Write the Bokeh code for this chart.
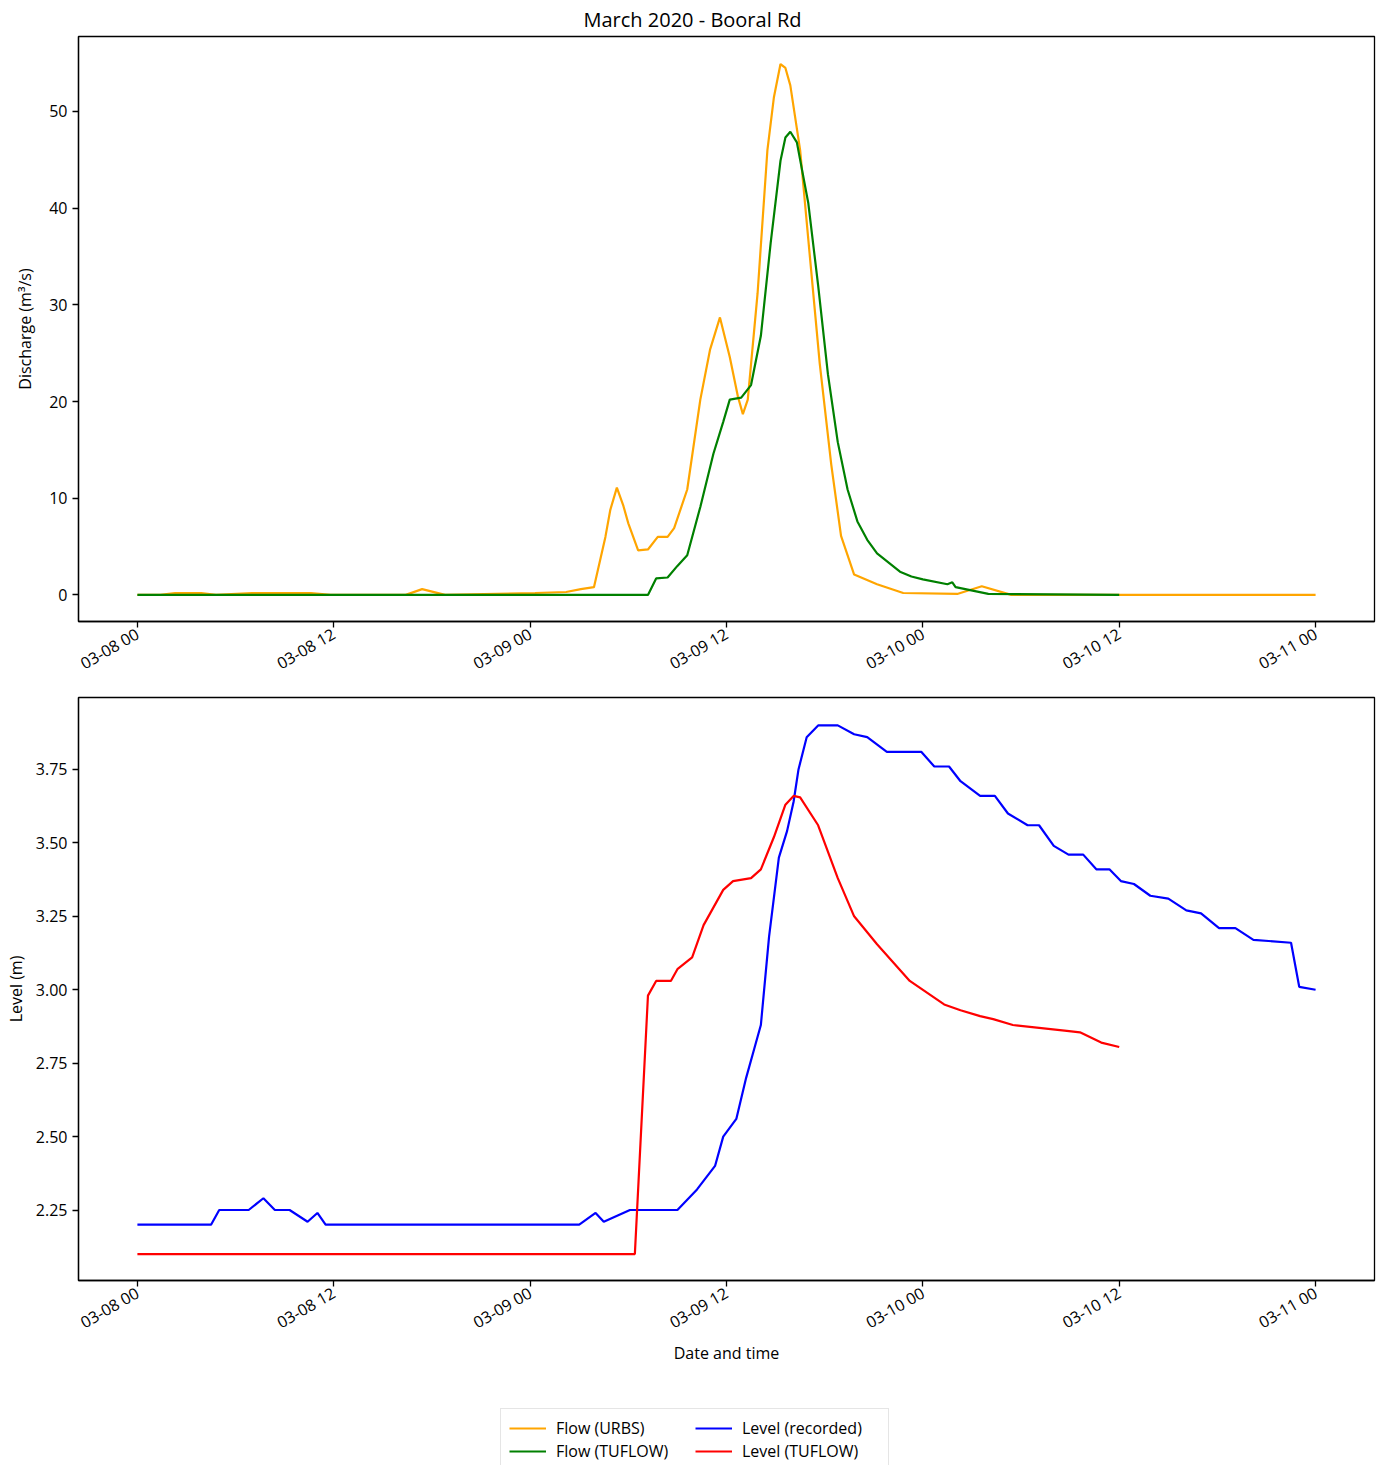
import math
import pandas as pd
from bokeh.plotting import figure
from bokeh.layouts import column
from bokeh.models import (Range1d, FixedTicker, DatetimeTickFormatter,
                          NumeralTickFormatter, Legend, LegendItem)
from bokeh.embed import file_html
from bokeh.resources import INLINE

START = pd.Timestamp("2020-03-08 00:00")

# ---- data (hours since 2020-03-08 00:00) ----
urbs_hours = [0.0, 1.4, 2.3, 3.9, 4.8, 7.0, 10.6, 11.8, 16.4, 17.4, 18.8, 24.3, 26.2,
              27.1, 27.9, 28.6, 28.9, 29.3, 29.7, 30.0, 30.6, 31.2, 31.8, 32.4, 32.8,
              33.6, 34.4, 35.0, 35.6, 36.2, 36.7, 37.0, 37.3, 37.9, 38.5, 38.9, 39.3,
              39.6, 39.9, 40.5, 41.1, 41.7, 42.4, 43.0, 43.8, 45.2, 46.8, 50.1, 51.6,
              53.4, 72.0]
urbs_flow = [0.0, 0.0, 0.2, 0.2, 0.0, 0.2, 0.2, 0.0, 0.0, 0.6, 0.0, 0.2, 0.3,
             0.6, 0.8, 6.0, 8.8, 11.1, 9.2, 7.4, 4.6, 4.7, 6.0, 6.0, 6.9,
             10.9, 20.2, 25.4, 28.7, 24.6, 20.5, 18.7, 20.2, 31.2, 46.0, 51.5, 54.9,
             54.5, 52.7, 46.0, 34.9, 23.9, 13.5, 6.1, 2.1, 1.1, 0.2, 0.1, 0.9,
             0.0, 0.0]

tuflow_hours = [0.0, 31.2, 31.7, 32.4, 33.0, 33.6, 34.4, 35.2, 35.8, 36.2, 36.9, 37.5,
                38.1, 38.7, 39.3, 39.6, 39.9, 40.3, 41.0, 41.6, 42.2, 42.8, 43.4, 44.0,
                44.6, 45.2, 46.6, 47.3, 48.0, 49.5, 49.8, 50.0, 52.0, 60.0]
tuflow_flow = [0.0, 0.0, 1.7, 1.8, 3.0, 4.1, 9.1, 14.6, 17.9, 20.2, 20.4, 21.7,
               26.8, 36.4, 44.9, 47.3, 47.9, 46.8, 40.5, 32.0, 22.8, 15.8, 10.9, 7.6,
               5.7, 4.3, 2.4, 1.9, 1.6, 1.1, 1.3, 0.8, 0.1, 0.0]

rec_hours = [0.0, 4.5, 5.0, 6.8, 7.7, 8.4, 9.3, 10.4, 11.0, 11.5, 27.0, 28.0, 28.5,
             30.1, 33.0, 34.2, 35.3, 35.8, 36.6, 37.2, 37.7, 38.1, 38.6, 39.2, 39.7,
             40.1, 40.4, 40.9, 41.6, 42.8, 43.8, 44.6, 45.8, 47.9, 48.7, 49.6, 50.3,
             51.5, 52.4, 53.2, 54.4, 55.1, 56.0, 56.9, 57.8, 58.6, 59.4, 60.1, 60.9,
             61.9, 63.0, 64.1, 65.0, 66.1, 67.1, 68.2, 70.5, 71.0, 72.0]
rec_level = [2.20, 2.20, 2.25, 2.25, 2.29, 2.25, 2.25, 2.21, 2.24, 2.20, 2.20, 2.24, 2.21,
             2.25, 2.25, 2.32, 2.40, 2.50, 2.56, 2.70, 2.80, 2.88, 3.18, 3.45, 3.54,
             3.64, 3.75, 3.86, 3.90, 3.90, 3.87, 3.86, 3.81, 3.81, 3.76, 3.76, 3.71,
             3.66, 3.66, 3.60, 3.56, 3.56, 3.49, 3.46, 3.46, 3.41, 3.41, 3.37, 3.36,
             3.32, 3.31, 3.27, 3.26, 3.21, 3.21, 3.17, 3.16, 3.01, 3.00]

tlev_hours = [0.0, 30.4, 31.2, 31.7, 32.6, 33.0, 33.9, 34.6, 35.8, 36.4, 37.5, 38.1,
              38.9, 39.6, 40.1, 40.5, 41.6, 42.8, 43.8, 45.2, 47.2, 49.3, 50.3, 51.5,
              52.3, 53.5, 56.8, 57.6, 58.9, 60.0]
tlev_level = [2.10, 2.10, 2.98, 3.03, 3.03, 3.07, 3.11, 3.22, 3.34, 3.37, 3.38, 3.41,
              3.52, 3.63, 3.66, 3.655, 3.56, 3.38, 3.25, 3.155, 3.03, 2.95, 2.93, 2.91,
              2.90, 2.88, 2.86, 2.855, 2.82, 2.805]

tick_hours = [0, 12, 24, 36, 48, 60, 72]
flow_ticks = [0, 10, 20, 30, 40, 50]
level_ticks = [2.25, 2.50, 2.75, 3.00, 3.25, 3.50, 3.75]

labels = ["Flow (URBS)", "Flow (TUFLOW)", "Level (recorded)", "Level (TUFLOW)"]
colors = ["#FFA500", "#008000", "#0000FF", "#FF0000"]

FONT = "Open Sans"
LW = 2.2


def to_time(hs):
    return [START + pd.Timedelta(hours=h) for h in hs]


def to_ms(h):
    return (START + pd.Timedelta(hours=h) - pd.Timestamp("1970-01-01")) / pd.Timedelta(milliseconds=1)


def make_fig(height, top, bottom, y_range):
    p = figure(width=1383, height=height, output_backend="svg", toolbar_location=None,
               x_axis_type="datetime",
               x_range=Range1d(START - pd.Timedelta(hours=3.6), START + pd.Timedelta(hours=75.6)),
               y_range=y_range, min_border_left=78, min_border_right=9,
               min_border_top=top, min_border_bottom=bottom)
    p.grid.visible = False
    p.outline_line_color = "black"
    p.outline_line_width = 1.3
    for ax in p.axis:
        ax.axis_line_color = "black"
        ax.axis_line_width = 1.3
        ax.major_tick_out = 6
        ax.major_tick_in = 0
        ax.major_tick_line_color = "black"
        ax.major_tick_line_width = 1.3
        ax.minor_tick_out = 0
        ax.minor_tick_in = 0
        ax.major_label_text_font = FONT
        ax.major_label_text_font_size = "16px"
        ax.major_label_text_color = "black"
        ax.axis_label_text_font = FONT
        ax.axis_label_text_font_size = "16px"
        ax.axis_label_text_font_style = "normal"
        ax.axis_label_text_color = "black"
        ax.major_label_standoff = 5
    fmt = "%m-%d %H"
    p.xaxis.ticker = FixedTicker(ticks=[to_ms(h) for h in tick_hours])
    p.xaxis.formatter = DatetimeTickFormatter(
        microseconds=fmt, milliseconds=fmt, seconds=fmt, minsec=fmt, minutes=fmt,
        hourmin=fmt, hours=fmt, days=fmt, months=fmt, years=fmt)
    p.xaxis.major_label_orientation = math.pi / 6
    return p


# ---- top: discharge ----
p1 = make_fig(690, 36, 69, Range1d(-2.75, 57.75))
p1.line(to_time(urbs_hours), urbs_flow, line_color=colors[0], line_width=LW)
p1.line(to_time(tuflow_hours), tuflow_flow, line_color=colors[1], line_width=LW)
p1.yaxis.ticker = FixedTicker(ticks=flow_ticks)
p1.yaxis.axis_label = "Discharge (m³/s)"
p1.yaxis.axis_label_standoff = 10
p1.title.text = "March 2020 - Booral Rd"
p1.title.text_font = FONT
p1.title.text_font_size = "20px"
p1.title.text_font_style = "normal"
p1.title.text_color = "black"
p1.title.align = "left"
p1.title.offset = 505
p1.title.standoff = 7

# ---- bottom: level ----
p2 = make_fig(700, 7, 110, Range1d(2.01, 3.995))
p2.line(to_time(rec_hours), rec_level, line_color=colors[2], line_width=LW)
p2.line(to_time(tlev_hours), tlev_level, line_color=colors[3], line_width=LW)
p2.yaxis.ticker = FixedTicker(ticks=level_ticks)
p2.yaxis.formatter = NumeralTickFormatter(format="0.00")
p2.yaxis.axis_label = "Level (m)"
p2.yaxis.axis_label_standoff = 6
p2.xaxis.axis_label = "Date and time"
p2.xaxis.axis_label_standoff = -4

# ---- legend strip ----
p3 = figure(width=1383, height=75, output_backend="svg", toolbar_location=None,
            min_border=0, outline_line_color=None,
            x_range=Range1d(0, 1), y_range=Range1d(0, 1))
p3.axis.visible = False
p3.grid.visible = False
items = []
nan = float("nan")
for lab, col in zip(labels, colors):
    r = p3.line(x=[nan, nan], y=[nan, nan], line_color=col, line_width=LW)
    items.append(LegendItem(label=lab, renderers=[r]))
leg = Legend(items=items, ncols=2, location=(422, -6))
leg.label_text_font = FONT
leg.label_text_font_size = "16px"
leg.label_text_color = "black"
leg.glyph_width = 37
leg.glyph_height = 20
leg.label_height = 20
leg.label_width = 138
leg.label_standoff = 10
leg.spacing = 1
leg.padding = 8
leg.margin = 0
leg.border_line_color = "#cccccc"
leg.background_fill_alpha = 0.8
p3.add_layout(leg)

layout = column(p1, p2, p3, spacing=0)
open("out.html", "w").write(file_html(layout, INLINE))
